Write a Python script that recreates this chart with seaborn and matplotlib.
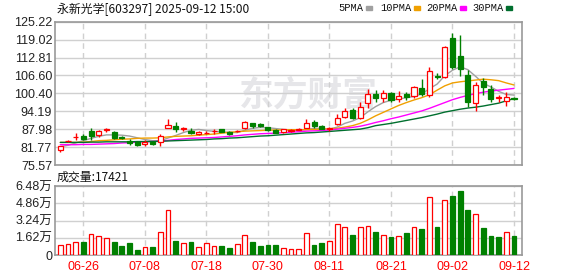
import numpy as np
import pandas as pd
import matplotlib
matplotlib.use("Agg")
import matplotlib.pyplot as plt
import seaborn as sns
from matplotlib.patches import Rectangle

# ---------------- data ----------------
dates = ["06-23", "06-24", "06-25", "06-26", "06-27", "06-30",
         "07-01", "07-02", "07-03", "07-04", "07-07", "07-08", "07-09", "07-10", "07-11",
         "07-14", "07-15", "07-16", "07-17", "07-18", "07-21", "07-22", "07-23", "07-24",
         "07-25", "07-28", "07-29", "07-30", "07-31",
         "08-01", "08-04", "08-05", "08-06", "08-07", "08-08", "08-11", "08-12", "08-13",
         "08-14", "08-15", "08-18", "08-19", "08-20", "08-21", "08-22", "08-25", "08-26",
         "08-27", "08-28", "08-29",
         "09-01", "09-02", "09-03", "09-04", "09-05", "09-08", "09-09", "09-10", "09-11", "09-12"]

opens = [80.7, 83.8, 85.3, 85.7, 87.35, 85.8, 87.8, 86.9, 85.1, 84.0,
         83.6, 82.7, 83.4, 83.5, 88.3, 89.2, 87.9, 87.5, 86.2, 86.6,
         87.2, 87.9, 86.9, 87.3, 88.4, 90.0, 89.7, 88.6, 87.7, 87.0,
         87.4, 87.8, 88.5, 90.6, 89.1, 88.2, 89.7, 92.1, 94.6, 91.7,
         97.2, 100.1, 98.9, 100.4, 98.3, 100.1, 99.6, 102.4, 99.8, 106.5,
         106.2, 119.5, 113.3, 106.8, 96.9, 104.8, 101.8, 98.8, 97.9, 98.9]
highs = [82.2, 84.2, 86.5, 86.3, 88.3, 87.8, 88.3, 87.35, 85.6, 84.6,
         84.0, 84.3, 83.8, 86.2, 91.4, 90.6, 88.9, 88.3, 87.4, 87.2,
         88.0, 88.1, 87.5, 87.8, 90.7, 90.2, 90.2, 88.9, 87.9, 88.0,
         87.9, 88.5, 91.4, 91.2, 89.5, 88.9, 93.2, 95.2, 95.2, 97.3,
         101.9, 101.6, 101.4, 101.0, 101.2, 101.0, 102.8, 105.4, 109.6, 107.3,
         116.9, 121.2, 120.6, 108.5, 104.4, 105.6, 103.3, 99.8, 101.0, 99.3]
lows = [80.0, 83.6, 84.3, 84.2, 84.2, 85.2, 87.1, 84.6, 84.6, 82.6,
        82.3, 82.0, 82.6, 82.0, 88.3, 87.1, 87.5, 86.2, 85.8, 86.3,
        86.2, 86.9, 85.8, 86.9, 88.2, 88.3, 88.8, 87.4, 86.6, 86.7,
        86.9, 87.6, 88.4, 88.3, 88.0, 87.4, 89.4, 91.7, 91.5, 91.5,
        95.4, 97.5, 97.5, 97.5, 97.5, 98.1, 98.9, 99.6, 99.2, 105.4,
        105.6, 108.7, 106.4, 95.8, 94.4, 99.8, 97.5, 97.5, 96.0, 98.0]
closes = [82.1, 83.9, 85.4, 84.6, 85.7, 87.35, 87.9, 84.9, 84.8, 83.1,
          82.6, 83.6, 82.9, 85.5, 89.4, 88.0, 88.5, 86.6, 87.1, 86.8,
          87.3, 87.1, 86.2, 87.5, 90.4, 89.2, 89.1, 87.7, 86.8, 87.9,
          87.6, 88.0, 90.0, 89.2, 88.2, 88.4, 91.7, 94.3, 91.7, 95.8,
          100.1, 98.7, 100.6, 98.1, 99.5, 99.2, 102.5, 100.1, 108.1, 106.0,
          116.6, 109.6, 109.0, 97.3, 103.3, 102.7, 98.4, 99.1, 99.2, 98.6]
volumes = [9100, 10300, 12200, 12500, 19400, 17800, 15700, 12200, 8500, 11300,
           4700, 7200, 7500, 21600, 42000, 13100, 11300, 12200, 7200, 11300,
           8500, 8500, 6600, 10300, 18500, 12200, 8500, 9400, 9400, 6300,
           5600, 5300, 20400, 9400, 11300, 13100, 28800, 26000, 18800, 26000,
           26900, 21600, 18500, 16900, 17500, 20700, 26000, 24400, 54100, 26300,
           51300, 55400, 60100, 42300, 38500, 25400, 17800, 16900, 21600, 17421]
vol_up = [1, 1, 1, 0, 1, 1, 1, 0, 0, 0,
          0, 1, 0, 1, 1, 0, 1, 0, 1, 1,
          1, 0, 0, 1, 1, 0, 0, 0, 0, 1,
          1, 1, 1, 0, 0, 1, 1, 1, 0, 1,
          1, 0, 1, 0, 1, 0, 1, 0, 1, 0,
          1, 0, 0, 0, 1, 0, 0, 0, 1, 0]

ma5 = [81.9, 82.4, 83.2, 84.0, 84.8, 85.5, 86.0, 86.0, 85.9, 85.6,
       85.0, 84.4, 84.0, 84.0, 84.9, 85.8, 86.8, 87.6, 87.9, 87.5,
       87.2, 87.0, 86.9, 86.8, 87.6, 88.3, 88.6, 88.5, 88.2, 87.9,
       87.6, 87.5, 87.9, 88.3, 88.2, 88.0, 88.7, 90.0, 90.8, 92.0,
       94.0, 95.8, 97.2, 98.0, 98.4, 98.9, 99.3, 100.2, 102.0, 103.6,
       106.5, 108.4, 109.6, 108.6, 106.3, 103.9, 102.6, 101.1, 100.0, 99.8]
ma10 = [83.4, 83.4, 83.4, 83.5, 83.7, 84.0, 84.1, 84.3, 84.5, 84.6,
        84.8, 84.9, 84.9, 85.0, 85.3, 85.5, 85.6, 85.7, 85.9, 86.1,
        86.3, 86.6, 86.9, 87.1, 87.3, 87.4, 87.5, 87.6, 87.7, 87.7,
        87.8, 87.8, 87.8, 87.9, 88.0, 88.1, 88.3, 88.7, 89.2, 90.0,
        91.2, 92.6, 93.8, 95.0, 96.2, 97.2, 98.1, 98.9, 99.9, 101.5,
        103.0, 104.0, 104.4, 104.7, 105.0, 105.3, 105.1, 104.8, 104.0, 103.3]
ma20 = [82.6, 82.6, 82.6, 82.7, 82.7, 82.8, 82.9, 83.0, 83.2, 83.3,
        83.5, 83.6, 83.7, 83.8, 84.1, 84.4, 84.6, 84.8, 84.9, 85.0,
        85.1, 85.3, 85.5, 85.7, 86.0, 86.2, 86.4, 86.5, 86.6, 86.8,
        86.9, 87.1, 87.3, 87.4, 87.5, 87.7, 88.0, 88.3, 88.6, 89.0,
        89.6, 90.3, 90.9, 91.6, 92.2, 92.9, 93.6, 94.3, 95.2, 96.2,
        97.2, 98.2, 99.0, 99.7, 100.3, 100.8, 101.2, 101.5, 101.8, 102.1]
ma30 = [83.4, 83.4, 83.4, 83.4, 83.5, 83.5, 83.6, 83.6, 83.6, 83.6,
        83.7, 83.7, 83.7, 83.8, 83.9, 84.0, 84.1, 84.2, 84.3, 84.4,
        84.6, 84.7, 84.9, 85.0, 85.2, 85.4, 85.6, 85.7, 85.9, 86.1,
        86.3, 86.5, 86.7, 86.8, 87.0, 87.2, 87.4, 87.6, 87.8, 88.0,
        88.5, 89.2, 89.6, 90.0, 90.5, 91.0, 91.5, 92.0, 92.6, 93.2,
        93.9, 94.4, 94.9, 95.3, 95.6, 96.0, 96.5, 97.0, 97.8, 98.6]

price_ticks = [75.57, 81.776, 87.983, 94.189, 100.395, 106.601, 112.808, 119.014, 125.22]
price_labels = ["75.57", "81.77", "87.98", "94.19", "100.40", "106.60", "112.81", "119.02", "125.22"]
vol_ticks = [0, 16200, 32400, 48600, 64800]
vol_labels = ["0", "1.62万", "3.24万", "4.86万", "6.48万"]
tick_dates = ["06-26", "07-08", "07-18", "07-30", "08-11", "08-21", "09-02", "09-12"]
ma_names = ["5PMA", "10PMA", "20PMA", "30PMA"]
title_text = "永新光学[603297] 2025-09-12 15:00"

# ---------------- style ----------------
sns.set_theme(style="white")
plt.rcParams["font.family"] = ["Liberation Sans", "Noto Sans CJK SC", "DejaVu Sans"]

RED = "#ff0000"
GRN = "#008000"
MA_COLORS = ["#a0a0a0", "#f0a000", "#ff00ff", "#006f2e"]
GRID = "#d0d0d0"
SPINE = "#999999"
TXT = "#222222"

W, H = 578, 276
fig = plt.figure(figsize=(W / 100, H / 100), dpi=100)
fig.patch.set_facecolor("white")
ax = fig.add_axes([55 / W, 1 - 165 / H, 467 / W, (165 - 21.7) / H])
axv = fig.add_axes([55 / W, 1 - 255 / H, 467 / W, 69 / H], sharex=ax)

x = np.arange(len(dates))
o = np.array(opens); c = np.array(closes)
hi = np.array(highs); lo = np.array(lows)
up = c >= o
col = np.where(up, RED, GRN)
face = np.where(up, "white", GRN)

# watermark
ax.text((308 - 55) / 467, (165 - 95) / 143.3, "东方财富", transform=ax.transAxes,
        ha="center", va="center", fontsize=25, fontweight="bold",
        color="#e6e6e9", family=["Noto Sans CJK SC"], zorder=0)

# MA lines
ma_df = pd.DataFrame({"x": x, "5PMA": ma5, "10PMA": ma10, "20PMA": ma20, "30PMA": ma30})
for name, mc in zip(ma_names, MA_COLORS):
    sns.lineplot(data=ma_df, x="x", y=name, ax=ax, color=mc, lw=1.0, zorder=2)

# candles
ax.vlines(x, lo, hi, colors=col, lw=1.0, zorder=3)
bottoms = np.minimum(o, c)
heights = np.maximum(np.abs(c - o), 0.02)
ax.bar(x, heights, bottom=bottoms, width=0.66, color=face, edgecolor=col,
       linewidth=0.9, zorder=4)

ax.set_xlim(-0.69, 60.04)
ax.set_ylim(price_ticks[0], price_ticks[-1])
ax.set_yticks(price_ticks)
ax.set_yticklabels(price_labels)
tick_idx = [dates.index(d) for d in tick_dates]
ax.set_xticks(tick_idx)
ax.tick_params(axis="x", labelbottom=False, length=0)
ax.tick_params(axis="y", length=0, pad=2, labelsize=9, labelcolor=TXT)
ax.yaxis.grid(True, color=GRID, lw=1, ls="-", zorder=0)
ax.xaxis.grid(True, color=GRID, lw=1, ls=(0, (4, 3)), zorder=0)
ax.set_xlabel(""); ax.set_ylabel("")

# volume
vcol = [RED if u else GRN for u in vol_up]
vface = ["white" if u else GRN for u in vol_up]
axv.bar(x, volumes, width=0.62, color=vface, edgecolor=vcol, linewidth=0.9, zorder=3)
axv.set_ylim(0, vol_ticks[-1])
axv.set_yticks(vol_ticks)
axv.set_yticklabels(vol_labels)
axv.set_xticks(tick_idx)
axv.set_xticklabels(tick_dates)
axv.tick_params(axis="x", length=0, pad=4.5, labelsize=9, labelcolor=RED)
axv.tick_params(axis="y", length=0, pad=2, labelsize=9, labelcolor=TXT)
axv.yaxis.grid(True, color=GRID, lw=1, ls="-", zorder=0)
axv.xaxis.grid(True, color=GRID, lw=1, ls=(0, (4, 3)), zorder=0)
axv.set_xlabel(""); axv.set_ylabel("")

for a in (ax, axv):
    a.set_axisbelow(True)
    for s in a.spines.values():
        s.set_color(SPINE)
        s.set_linewidth(1.2)
        s.set_visible(True)

# texts
fig.text(57 / W, 1 - 9 / H, title_text, ha="left", va="center", fontsize=8.6,
         color="#111111", family=["Noto Sans CJK SC", "DejaVu Sans"])
fig.text(57 / W, 1 - 177 / H, f"成交量:{volumes[-1]}", ha="left", va="center",
         fontsize=8.6, color="#111111", family=["Noto Sans CJK SC", "DejaVu Sans"])

# legend
leg_x = [338, 380, 426, 472]
for lx, name, mc in zip(leg_x, ma_names, MA_COLORS):
    t = fig.text(lx / W, 1 - 8 / H, name, ha="left", va="center", fontsize=7.5,
                 color="#111111", family=["Liberation Mono"])
    tw = len(name) * 6.25
    fig.patches.append(Rectangle(((lx + tw + 3) / W, 1 - 10 / H), 6 / W, 4 / H,
                                 transform=fig.transFigure, color=mc))

fig.savefig("out.png", dpi=100)
